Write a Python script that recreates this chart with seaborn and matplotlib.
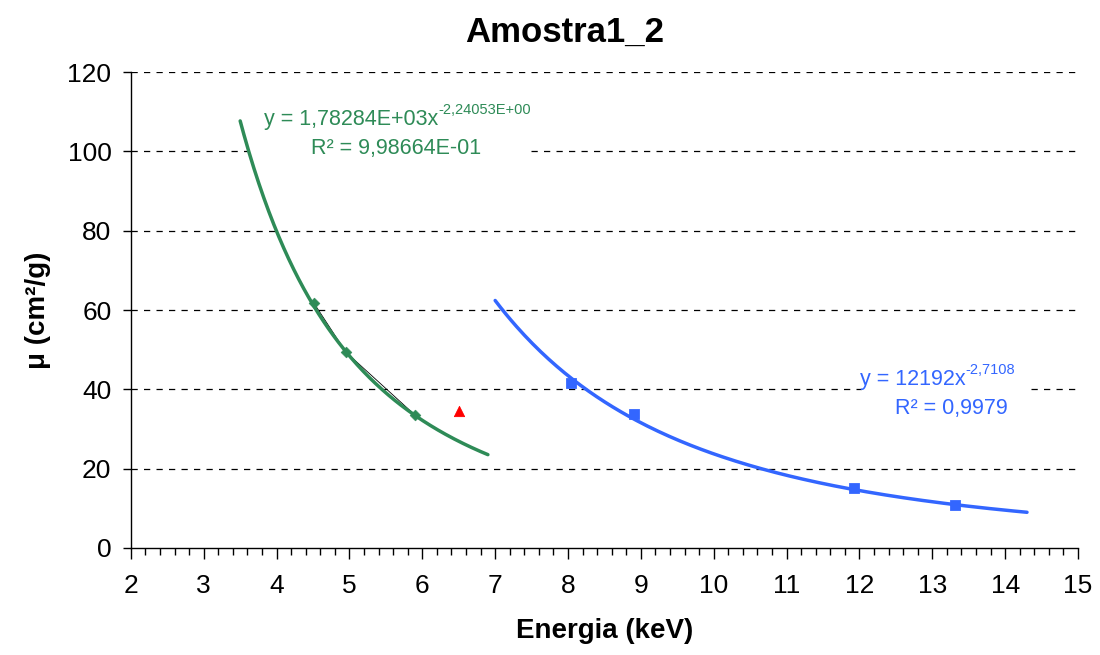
import numpy as np
import pandas as pd
import matplotlib
matplotlib.use("Agg")
import matplotlib.pyplot as plt
from matplotlib.patches import Rectangle
from matplotlib.ticker import MultipleLocator
import seaborn as sns

# ---- data ----
green_x = [4.51, 4.95, 5.90]
green_y = [61.8, 49.4, 33.5]
red_x = [6.50]
red_y = [34.5]
blue_x = [8.04, 8.90, 11.92, 13.31]
blue_y = [41.6, 33.8, 15.1, 10.8]

# trendline coefficients shown on the chart (y = a * x^b)
green_a, green_b = 1782.84, -2.24053
blue_a, blue_b = 12192.0, -2.7108
green_range = (3.5, 6.9)
blue_range = (7.0, 14.3)

title = "Amostra1_2"
xlabel = "Energia (keV)"
ylabel = "μ (cm²/g)"
green_eq = "y = 1,78284E+03x"
green_sup = "-2,24053E+00"
green_r2 = "R² = 9,98664E-01"
blue_eq = "y = 12192x"
blue_sup = "-2,7108"
blue_r2 = "R² = 0,9979"

sns.set_style("white")
plt.rcParams["font.family"] = ["Liberation Sans", "DejaVu Sans"]
plt.rcParams["text.color"] = "black"
plt.rcParams["axes.labelcolor"] = "black"
plt.rcParams["xtick.color"] = "black"
plt.rcParams["ytick.color"] = "black"

GREEN = "#2E8B57"
BLUE = "#3366FF"
RED = "#FF0000"

fig = plt.figure(figsize=(11, 6.55), dpi=100)
ax = fig.add_axes([0.119, 0.1634, 0.861, 0.7266])

gx = np.linspace(*green_range, 200)
bx = np.linspace(*blue_range, 200)
gfit = pd.DataFrame({"x": gx, "y": green_a * gx ** green_b})
bfit = pd.DataFrame({"x": bx, "y": blue_a * bx ** blue_b})

# data series line (thin, black) behind green fit
sns.lineplot(x=green_x, y=green_y, color="black", lw=0.6, ax=ax, zorder=3, sort=False)
sns.scatterplot(x=green_x, y=green_y, marker="D", s=30, color=GREEN, edgecolor=GREEN, ax=ax, zorder=4)
sns.lineplot(data=gfit, x="x", y="y", color=GREEN, lw=2.5, ax=ax, zorder=5)
sns.scatterplot(x=blue_x, y=blue_y, marker="s", s=50, color=BLUE, edgecolor=BLUE, ax=ax, zorder=4)
sns.lineplot(data=bfit, x="x", y="y", color=BLUE, lw=2.5, ax=ax, zorder=5)
sns.scatterplot(x=red_x, y=red_y, marker="^", s=55, color=RED, edgecolor=RED, ax=ax, zorder=4)

ax.set_xlim(2, 15)
ax.set_ylim(0, 120)
ax.xaxis.set_major_locator(MultipleLocator(1))
ax.xaxis.set_minor_locator(MultipleLocator(0.2))
ax.yaxis.set_major_locator(MultipleLocator(20))
ax.grid(False)
for yv in range(20, 121, 20):
    ax.axhline(yv, color="black", lw=0.9, ls=(0, (5, 5)), zorder=1)

for s in ["top", "right"]:
    ax.spines[s].set_visible(False)
for s in ["left", "bottom"]:
    ax.spines[s].set_color("black")
    ax.spines[s].set_linewidth(1.0)

ax.tick_params(axis="x", which="major", direction="out", length=8, width=1, labelsize=19, pad=11, bottom=True)
ax.tick_params(axis="x", which="minor", direction="out", length=5, width=1, bottom=True)
ax.tick_params(axis="y", which="major", direction="out", length=6, width=1, labelsize=19, pad=8, left=True)

ax.set_xlabel(xlabel, fontsize=20, fontweight="bold", labelpad=14)
ax.set_ylabel(ylabel, fontsize=20, fontweight="bold", labelpad=12)
fig.text(565 / 1100, 1 - 32 / 655, title, ha="center", va="center", fontsize=25, fontweight="bold")

# label backgrounds (hide gridlines behind the labels)
ax.add_patch(Rectangle((3.61, 96.5), 3.87, 15.5, facecolor="white", edgecolor="none", zorder=2))
ax.add_patch(Rectangle((12.03, 31.5), 2.25, 15.5, facecolor="white", edgecolor="none", zorder=2))

def equation(x_end, y_line1, y_line2, x_center, eq, sup, r2, color):
    t = ax.text(x_end, y_line1, eq, ha="right", va="center", fontsize=15.5, color=color, zorder=6)
    ax.annotate(sup, xy=(1.0, 0.62), xycoords=t, ha="left", va="bottom", fontsize=10.5, color=color, zorder=6)
    ax.text(x_center, y_line2, r2, ha="center", va="center", fontsize=15.5, color=color, zorder=6)

equation(6.214, 108.0, 100.6, 5.64, green_eq, green_sup, green_r2, GREEN)
equation(13.46, 42.5, 35.2, 13.26, blue_eq, blue_sup, blue_r2, BLUE)

fig.savefig("out.png", dpi=100)
